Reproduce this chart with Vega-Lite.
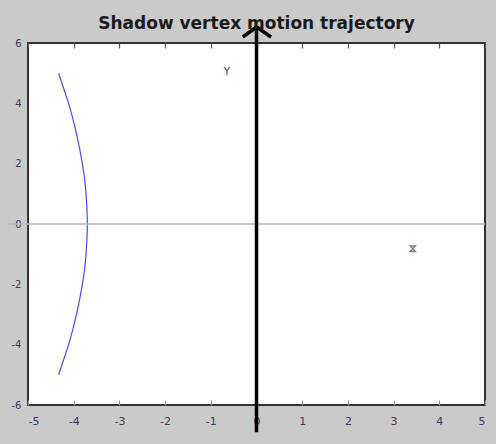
{
  "$schema": "https://vega.github.io/schema/vega-lite/v6.json",
  "width": 457,
  "height": 362,
  "autosize": {"type": "none"},
  "padding": {"left": 28, "top": 43, "right": 11, "bottom": 39},
  "background": "#cacaca",
  "title": {"text": "Shadow vertex motion trajectory", "font": "DejaVu Sans", "fontSize": 17, "fontWeight": "bold", "color": "#1a1a1a", "frame": "group", "anchor": "middle", "baseline": "alphabetic", "offset": -26},
  "config": {
    "view": {"stroke": "#333333", "strokeWidth": 2, "fill": "white"},
    "axis": {"grid": false, "domain": false, "labelFont": "DejaVu Sans", "labelFontSize": 11, "labelColor": "#3a3a5a", "labelExpr": "replace(datum.label, '\u2212', '-')"}
  },
  "resolve": {"axis": {"x": "independent", "y": "independent"}},
  "layer": [
    {
      "data": {"values": [
        {"x": -4.33, "y": 5.0}, {"x": -4.22, "y": 4.5}, {"x": -4.11, "y": 4.0}, {"x": -4.02, "y": 3.5},
        {"x": -3.94, "y": 3.0}, {"x": -3.87, "y": 2.5}, {"x": -3.81, "y": 2.0}, {"x": -3.76, "y": 1.5},
        {"x": -3.73, "y": 1.0}, {"x": -3.71, "y": 0.5}, {"x": -3.70, "y": 0.0}, {"x": -3.71, "y": -0.5},
        {"x": -3.73, "y": -1.0}, {"x": -3.76, "y": -1.5}, {"x": -3.81, "y": -2.0}, {"x": -3.87, "y": -2.5},
        {"x": -3.94, "y": -3.0}, {"x": -4.02, "y": -3.5}, {"x": -4.11, "y": -4.0}, {"x": -4.22, "y": -4.5},
        {"x": -4.33, "y": -5.0}
      ]},
      "mark": {"type": "line", "color": "#4a4aff", "strokeWidth": 1.2},
      "encoding": {
        "x": {"field": "x", "type": "quantitative", "scale": {"domain": [-5, 5], "nice": false, "zero": false},
              "axis": {"orient": "bottom", "title": null, "ticks": false, "labelPadding": 10, "values": [-5, -4, -3, -2, -1, 0, 1, 2, 3, 4, 5]}},
        "y": {"field": "y", "type": "quantitative", "scale": {"domain": [-6, 6], "nice": false, "zero": false},
              "axis": {"orient": "left", "title": null, "ticks": false, "labelPadding": 7, "labelFontSize": 10, "values": [-6, -4, -2, 0, 2, 4, 6]}},
        "order": {"field": "y", "type": "quantitative"}
      }
    },
    {
      "data": {"values": [{"x": -5.45, "x2": 5, "y": 0}]},
      "mark": {"type": "rule", "color": "#b8b8b8", "strokeWidth": 1.5, "clip": false},
      "encoding": {
        "x": {"field": "x", "type": "quantitative", "axis": {"orient": "top", "title": null, "labels": false, "tickSize": -5, "tickColor": "#555555", "tickWidth": 1.2, "values": [-5, -4, -3, -2, -1, 0, 1, 2, 3, 4, 5]}},
        "x2": {"field": "x2"},
        "y": {"field": "y", "type": "quantitative", "axis": null}
      }
    },
    {
      "data": {"values": [{"x": 0, "y": -6.9, "y2": 6.53}]},
      "mark": {"type": "rule", "color": "black", "strokeWidth": 3.5, "clip": false},
      "encoding": {
        "x": {"field": "x", "type": "quantitative", "axis": {"orient": "bottom", "title": null, "labels": false, "tickSize": -5, "tickColor": "#999999", "tickWidth": 1.2, "values": [-5, -4, -3, -2, -1, 0, 1, 2, 3, 4, 5]}},
        "y": {"field": "y", "type": "quantitative", "axis": null},
        "y2": {"field": "y2"}
      }
    },
    {
      "data": {"values": [{"x": -0.3, "y": 6.2, "k": 1}, {"x": 0, "y": 6.53, "k": 2}, {"x": 0.32, "y": 6.2, "k": 3}]},
      "mark": {"type": "line", "color": "black", "strokeWidth": 3.5, "clip": false, "strokeJoin": "miter"},
      "encoding": {
        "x": {"field": "x", "type": "quantitative", "axis": null},
        "y": {"field": "y", "type": "quantitative", "axis": null},
        "order": {"field": "k", "type": "quantitative"}
      }
    },
    {
      "data": {"values": [{"x": -0.65, "y": 5.05, "label": "Y"}]},
      "mark": {"type": "text", "font": "DejaVu Sans", "fontSize": 11, "color": "#4a3a6a"},
      "encoding": {
        "x": {"field": "x", "type": "quantitative", "axis": null},
        "y": {"field": "y", "type": "quantitative", "axis": null},
        "text": {"field": "label"}
      }
    },
    {
      "data": {"values": [{"x": 3.42, "y": -0.82}]},
      "mark": {"type": "point", "shape": "M-1,-1L1,-1L-1,1L1,1Z", "size": 30, "filled": false, "color": "#5a3a6a", "strokeWidth": 1.3},
      "encoding": {
        "x": {"field": "x", "type": "quantitative", "axis": null},
        "y": {"field": "y", "type": "quantitative", "axis": null}
      }
    }
  ]
}
